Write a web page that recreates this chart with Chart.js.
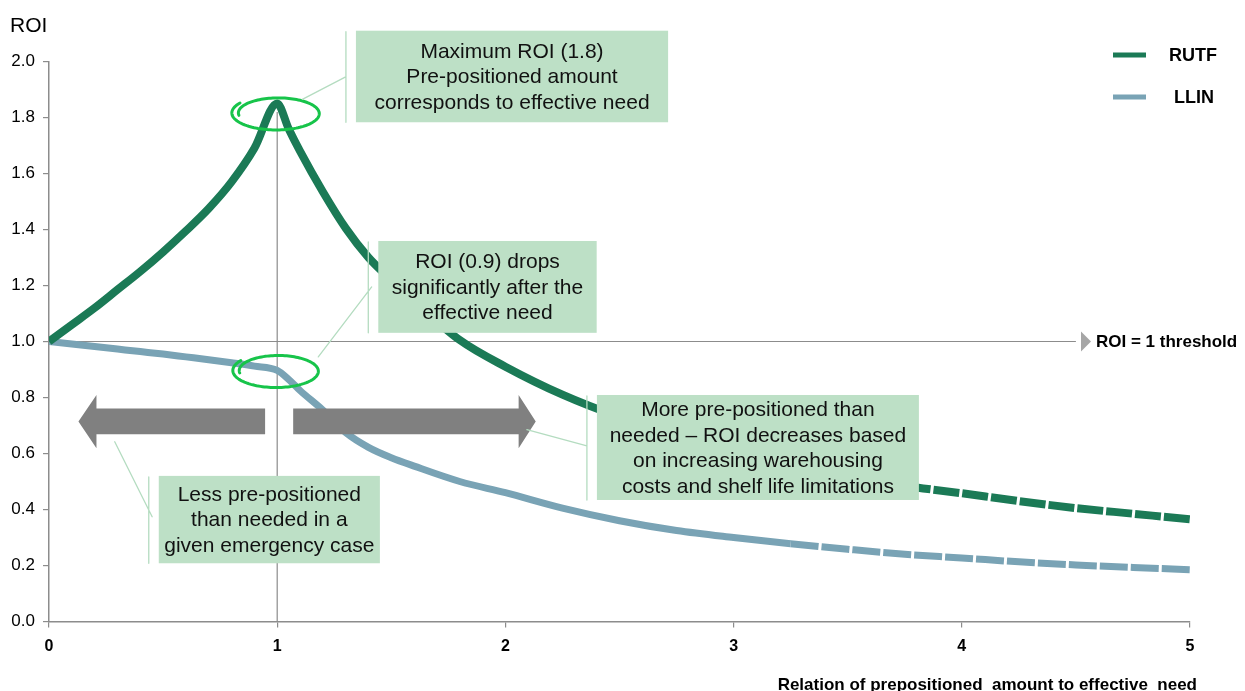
<!DOCTYPE html>
<html>
<head>
<meta charset="utf-8">
<script src="https://cdn.jsdelivr.net/npm/chart.js@4"></script>
<style>
  html, body { margin: 0; padding: 0; background: #fff; }
  #wrap { width: 1245px; height: 691px; }
</style>
</head>
<body>
<div id="wrap"><canvas id="roiChart" width="1245" height="691"></canvas></div>
<script>
// relation of prepositioned amount to effective need
const ratios = [0, 0.1, 0.2, 0.3, 0.4, 0.5, 0.6, 0.7, 0.8, 0.9, 1.0, 1.05, 1.1, 1.2, 1.3, 1.4, 1.5, 1.6, 1.8, 2.0,
                2.25, 2.5, 2.75, 3.0, 3.25, 3.5, 3.75, 4.0, 4.25, 4.5, 4.75, 5.0];
// ROI
const rutfRoi = [1.00, 1.06, 1.12, 1.185, 1.25, 1.32, 1.395, 1.475, 1.57, 1.69, 1.85, 1.76, 1.68, 1.535, 1.405, 1.30,
                 1.22, 1.145, 1.005, 0.91, 0.81, 0.73, 0.665, 0.61, 0.565, 0.525, 0.485, 0.458, 0.43, 0.405, 0.385, 0.365];
const llinRoi = [1.00, 0.991, 0.982, 0.973, 0.964, 0.955, 0.945, 0.935, 0.924, 0.912, 0.897, 0.865, 0.825, 0.755, 0.675,
                 0.622, 0.585, 0.555, 0.50, 0.46, 0.405, 0.36, 0.325, 0.30, 0.278, 0.258, 0.24, 0.227, 0.213, 0.202, 0.193, 0.185];
const seriesNames = ['RUTF', 'LLIN'];
const xTicks = [0, 1, 2, 3, 4, 5];
const yTicks = [0, 0.2, 0.4, 0.6, 0.8, 1.0, 1.2, 1.4, 1.6, 1.8, 2.0];

const FONT = '"Liberation Sans", Arial, Helvetica, sans-serif';
const RUTF_COLOR = '#1b7a56';
const LLIN_COLOR = '#79a3b5';
const BOX_COLOR = '#bde0c6';
const CALLOUT_COLOR = '#b4dcc0';
const RING_COLOR = '#17c44a';
const ARROW_COLOR = '#808080';

Chart.defaults.font.family = FONT;

function toPoints(vals) {
    return ratios.map((r, i) => ({ x: r, y: vals[i] }));
}

// callout boxes (data coordinates)
const boxes = [
    { x0: 1.345, x1: 2.713, y0: 2.11, y1: 1.783, lines: ['Maximum ROI (1.8)', 'Pre-positioned amount', 'corresponds to effective need'],
      lead: [[1.30, 1.945], [1.11, 1.865]] },
    { x0: 1.443, x1: 2.400, y0: 1.359, y1: 1.031, lines: ['ROI (0.9) drops', 'significantly after the', 'effective need'],
      lead: [[1.414, 1.195], [1.18, 0.945]] },
    { x0: 2.401, x1: 3.812, y0: 0.809, y1: 0.434, lines: ['More pre-positioned than', 'needed \u2013 ROI decreases based', 'on increasing warehousing', 'costs and shelf life limitations'],
      lead: [[2.357, 0.627], [2.094, 0.685]] },
    { x0: 0.481, x1: 1.450, y0: 0.520, y1: 0.208, lines: ['Less pre-positioned', 'than needed in a', 'given emergency case'],
      lead: [[0.452, 0.374], [0.288, 0.642]] }
];

const decorations = {
    id: 'decorations',
    beforeDatasetsDraw(chart) {
        const ctx = chart.ctx, sx = chart.scales.x, sy = chart.scales.y;
        const X = v => sx.getPixelForValue(v), Y = v => sy.getPixelForValue(v);
        ctx.save();
        ctx.strokeStyle = '#8c8c8c';
        ctx.lineWidth = 1.2;
        // ROI = 1 threshold
        ctx.beginPath();
        ctx.moveTo(X(0), Y(1));
        ctx.lineTo(X(4.5), Y(1));
        ctx.stroke();
        // effective need
        ctx.beginPath();
        ctx.moveTo(X(1), Y(0));
        ctx.lineTo(X(1), Y(1.82));
        ctx.stroke();
        ctx.restore();
    },
    afterDatasetsDraw(chart) {
        const ctx = chart.ctx, sx = chart.scales.x, sy = chart.scales.y;
        const X = v => sx.getPixelForValue(v), Y = v => sy.getPixelForValue(v);
        ctx.save();

        // grey arrows
        ctx.fillStyle = ARROW_COLOR;
        ctx.beginPath();
        ctx.moveTo(X(0.129), Y(0.714));
        ctx.lineTo(X(0.208), Y(0.809));
        ctx.lineTo(X(0.208), Y(0.761));
        ctx.lineTo(X(0.947), Y(0.761));
        ctx.lineTo(X(0.947), Y(0.669));
        ctx.lineTo(X(0.208), Y(0.669));
        ctx.lineTo(X(0.208), Y(0.619));
        ctx.closePath();
        ctx.fill();
        ctx.beginPath();
        ctx.moveTo(X(2.133), Y(0.714));
        ctx.lineTo(X(2.058), Y(0.809));
        ctx.lineTo(X(2.058), Y(0.761));
        ctx.lineTo(X(1.070), Y(0.761));
        ctx.lineTo(X(1.070), Y(0.669));
        ctx.lineTo(X(2.058), Y(0.669));
        ctx.lineTo(X(2.058), Y(0.619));
        ctx.closePath();
        ctx.fill();

        // hand drawn rings
        function ring(cx, cy, rx, ry) {
            ctx.strokeStyle = RING_COLOR;
            ctx.lineWidth = 3;
            ctx.lineCap = 'round';
            ctx.beginPath();
            const t0 = Math.PI * 0.80, t1 = t0 + Math.PI * 2.25;
            for (let t = t0; t <= t1; t += 0.05) {
                const k = 1 - 0.16 * (t - t0) / (t1 - t0);
                const px = cx + Math.cos(t) * rx * k;
                const py = cy - Math.sin(t) * ry * k;
                if (t === t0) ctx.moveTo(px, py); else ctx.lineTo(px, py);
            }
            ctx.stroke();
        }
        ring(X(1), Y(1.815), 46, 17.5);
        ring(X(1), Y(0.895), 45, 17.5);

        // callouts
        boxes.forEach(b => {
            const left = X(b.x0), right = X(b.x1), top = Y(b.y0), bottom = Y(b.y1);
            ctx.strokeStyle = CALLOUT_COLOR;
            ctx.lineWidth = 1.3;
            ctx.beginPath();
            ctx.moveTo(left - 10, top + 1);
            ctx.lineTo(left - 10, bottom);
            ctx.moveTo(X(b.lead[0][0]), Y(b.lead[0][1]));
            ctx.lineTo(X(b.lead[1][0]), Y(b.lead[1][1]));
            ctx.stroke();
            ctx.fillStyle = BOX_COLOR;
            ctx.fillRect(left, top, right - left, bottom - top);
            ctx.fillStyle = '#111';
            ctx.font = '21px ' + FONT;
            ctx.textAlign = 'center';
            ctx.textBaseline = 'middle';
            const lh = 25.5, cx = (left + right) / 2, cy = (top + bottom) / 2;
            b.lines.forEach((t, i) => {
                ctx.fillText(t, cx, cy + (i - (b.lines.length - 1) / 2) * lh + 1);
            });
        });

        // threshold marker
        const ty = Y(1);
        ctx.fillStyle = '#a6a6a6';
        ctx.beginPath();
        ctx.moveTo(1081, ty - 10);
        ctx.lineTo(1091, ty);
        ctx.lineTo(1081, ty + 10);
        ctx.closePath();
        ctx.fill();
        ctx.fillStyle = '#000';
        ctx.font = 'bold 17px ' + FONT;
        ctx.textAlign = 'left';
        ctx.textBaseline = 'middle';
        ctx.fillText('ROI = 1 threshold', 1096, ty + 1);

        // legend
        const legendRows = [
            { name: seriesNames[0], color: RUTF_COLOR, y: 55, tx: 1169 },
            { name: seriesNames[1], color: LLIN_COLOR, y: 97, tx: 1174 }
        ];
        legendRows.forEach(r => {
            ctx.strokeStyle = r.color;
            ctx.lineWidth = 5;
            ctx.lineCap = 'butt';
            ctx.beginPath();
            ctx.moveTo(1113, r.y);
            ctx.lineTo(1146, r.y);
            ctx.stroke();
            ctx.fillStyle = '#000';
            ctx.font = 'bold 18px ' + FONT;
            ctx.fillText(r.name, r.tx, r.y + 1);
        });

        // axis titles
        ctx.font = '21px ' + FONT;
        ctx.textBaseline = 'alphabetic';
        ctx.textAlign = 'left';
        ctx.fillText('ROI', 10, 32);
        ctx.font = 'bold 17px ' + FONT;
        ctx.textAlign = 'right';
        ctx.fillText('Relation of prepositioned  amount to effective  need', 1197, 690);
        ctx.restore();
    }
};

new Chart(document.getElementById('roiChart'), {
    type: 'line',
    data: {
        datasets: [
            {
                label: seriesNames[0],
                data: toPoints(rutfRoi),
                borderColor: RUTF_COLOR,
                borderWidth: 8,
                pointRadius: 0,
                cubicInterpolationMode: 'monotone',
                segment: {
                    borderDash: c => c.p0.parsed.x >= 3.75 ? [26, 3] : undefined
                }
            },
            {
                label: seriesNames[1],
                data: toPoints(llinRoi),
                borderColor: LLIN_COLOR,
                borderWidth: 7,
                pointRadius: 0,
                cubicInterpolationMode: 'monotone',
                segment: {
                    borderDash: c => c.p0.parsed.x >= 3.25 ? [28, 3] : undefined
                }
            }
        ]
    },
    options: {
        responsive: false,
        animation: false,
        devicePixelRatio: 1,
        layout: { padding: { left: 0, top: 61.5, right: 55, bottom: 0 } },
        plugins: {
            legend: { display: false },
            tooltip: { enabled: false }
        },
        scales: {
            x: {
                type: 'linear',
                min: xTicks[0],
                max: xTicks[xTicks.length - 1],
                afterBuildTicks: s => { s.ticks = xTicks.map(v => ({ value: v })); },
                afterFit: s => { s.height = 69.5; },
                ticks: {
                    color: '#000',
                    font: { size: 16, weight: 'bold' },
                    padding: 9,
                    maxRotation: 0
                },
                grid: { drawOnChartArea: false, tickLength: 6, color: '#8c8c8c', lineWidth: 1.2 },
                border: { color: '#8c8c8c', width: 1.5 }
            },
            y: {
                min: yTicks[0],
                max: yTicks[yTicks.length - 1],
                afterBuildTicks: s => { s.ticks = yTicks.map(v => ({ value: v })); },
                afterFit: s => { s.width = 49; },
                ticks: {
                    color: '#000',
                    font: { size: 17 },
                    padding: 8,
                    callback: v => v.toFixed(1)
                },
                grid: { drawOnChartArea: false, tickLength: 6, color: '#8c8c8c', lineWidth: 1.2 },
                border: { color: '#8c8c8c', width: 1.5 }
            }
        }
    },
    plugins: [decorations]
});
</script>
</body>
</html>
